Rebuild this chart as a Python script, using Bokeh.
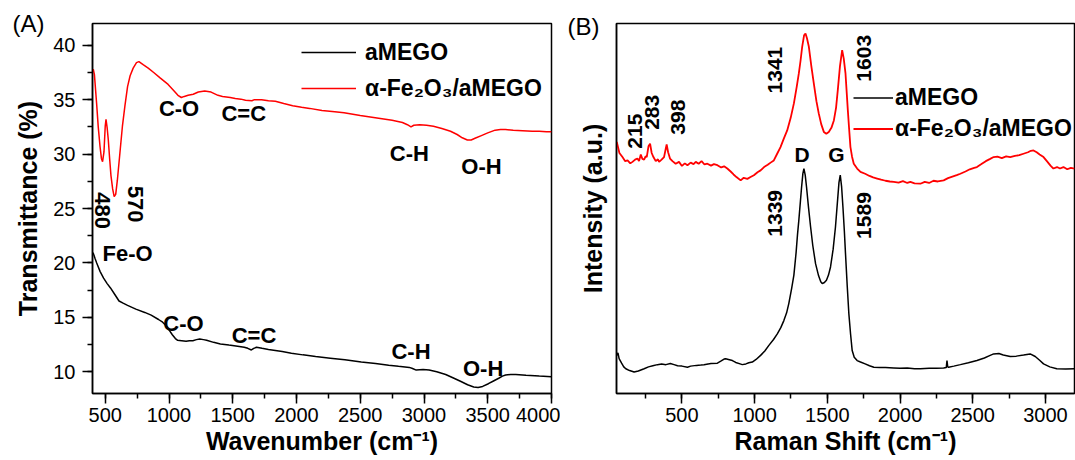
import math
from bokeh.plotting import figure
from bokeh.layouts import row
from bokeh.models import (Legend, LegendItem, SingleIntervalTicker,
                          FixedTicker, Range1d)
from bokeh.embed import file_html
from bokeh.resources import INLINE
from bokeh.core.properties import value

# ---------------- FTIR data (panel A) ----------------
ftir_red_x = [400, 406, 415, 432, 445, 459, 470, 479, 490, 500, 506, 515, 524, 535, 545, 558,
              570, 582, 595, 615, 635, 654, 675, 695, 719, 745, 764, 800, 837, 880, 930, 993,
              1040, 1070, 1097, 1120, 1150, 1190, 1230, 1280, 1330, 1384, 1420, 1480, 1520,
              1564, 1600, 1650, 1670, 1726, 1780, 1834, 1900, 1970, 2040, 2103, 2200, 2300,
              2373, 2500, 2644, 2750, 2831, 2870, 2898, 2920, 2966, 3020, 3074, 3140, 3208,
              3260, 3300, 3340, 3370, 3400, 3450, 3500, 3558, 3600, 3639, 3700, 3773, 3850,
              3904, 3960, 4000]
ftir_red_y = [37.6, 37.8, 37.3, 34.7, 32.5, 30.7, 29.6, 29.3, 30.2, 32.6, 33.2, 32.4, 31.3,
              29.5, 28.0, 26.8, 26.1, 26.3, 27.6, 30.1, 32.6, 34.4, 36.2, 37.2, 37.9, 38.4,
              38.5, 38.2, 37.9, 37.5, 37.0, 36.4, 35.8, 35.4, 35.2, 35.3, 35.4, 35.5, 35.7,
              35.8, 35.7, 35.4, 35.3, 35.2, 35.1, 35.05, 34.95, 34.9, 35.0, 35.0, 34.9, 34.85,
              34.65, 34.45, 34.3, 34.2, 34.0, 33.9, 33.8, 33.55, 33.3, 33.1, 32.9, 32.7, 32.5,
              32.65, 32.7, 32.65, 32.55, 32.35, 32.1, 31.8, 31.5, 31.3, 31.3, 31.45, 31.7,
              31.95, 32.2, 32.25, 32.25, 32.2, 32.15, 32.1, 32.1, 32.05, 32.05]

ftir_black_x = [400, 406, 420, 433, 460, 487, 515, 541, 575, 608, 640, 675, 740, 810, 860, 918,
                950, 972, 1000, 1026, 1050, 1066, 1100, 1134, 1160, 1187, 1215, 1241, 1270,
                1295, 1350, 1403, 1470, 1538, 1590, 1618, 1646, 1665, 1686, 1730, 1780, 1888,
                1960, 2050, 2150, 2265, 2380, 2508, 2620, 2723, 2800, 2885, 2910, 2939, 2993,
                3040, 3100, 3170, 3235, 3290, 3342, 3390, 3424, 3460, 3505, 3545, 3586, 3615,
                3640, 3680, 3720, 3800, 3904, 4000]
ftir_black_y = [20.9, 20.9, 20.4, 20.0, 19.2, 18.6, 18.1, 17.7, 17.1, 16.5, 16.3, 16.1, 15.75,
                15.45, 15.2, 14.8, 14.55, 14.3, 13.85, 13.4, 13.05, 12.9, 12.85, 12.8, 12.85,
                12.85, 12.95, 13.0, 12.95, 12.9, 12.7, 12.55, 12.45, 12.35, 12.25, 12.15, 12.0,
                12.15, 12.25, 12.15, 12.05, 11.85, 11.7, 11.55, 11.4, 11.25, 11.1, 10.9, 10.75,
                10.6, 10.5, 10.4, 10.3, 10.15, 10.2, 10.15, 10.0, 9.75, 9.4, 9.1, 8.8, 8.6,
                8.55, 8.65, 8.9, 9.15, 9.4, 9.6, 9.7, 9.75, 9.75, 9.68, 9.6, 9.55]

ftir_red_labels = ["C-O", "C=C", "C-H", "O-H", "Fe-O"]
ftir_red_lx = [1079, 1586, 2885, 3451, 675]
ftir_red_ly = [34.2, 33.7, 30.1, 28.85, 20.86]
ftir_peak_labels = ["480", "570"]
ftir_peak_lx = [481, 735]
ftir_peak_ly = [24.8, 25.4]
ftir_black_labels = ["C-O", "C=C", "C-H", "O-H"]
ftir_black_lx = [1114, 1667, 2898, 3464]
ftir_black_ly = [14.46, 13.35, 11.87, 10.3]

# ---------------- Raman data (panel B) ----------------
raman_red_x = [52, 70, 91, 110, 126, 145, 160, 178, 194, 205, 217, 228, 240, 250, 258, 270,
               281, 292, 304, 320, 335, 343, 360, 377, 388, 395, 405, 418, 435, 457, 480, 500,
               520, 538, 560, 580, 595, 615, 635, 655, 675, 700, 720, 744, 770, 790, 812, 835,
               855, 875, 904, 925, 950, 972, 995, 1020, 1041, 1065, 1090, 1110, 1132, 1155,
               1178, 1200, 1224, 1248, 1270, 1290, 1304, 1316, 1327, 1340, 1350, 1360, 1373,
               1390, 1407, 1425, 1441, 1458, 1476, 1493, 1510, 1528, 1545, 1560, 1572, 1587,
               1602, 1613, 1625, 1641, 1650, 1659, 1670, 1682, 1705, 1728, 1760, 1790, 1815,
               1843, 1870, 1900, 1930, 1957, 1990, 2020, 2050, 2071, 2100, 2140, 2170, 2200,
               2230, 2260, 2300, 2330, 2360, 2390, 2415, 2450, 2480, 2510, 2529, 2560, 2590,
               2620, 2644, 2670, 2700, 2730, 2758, 2790, 2820, 2849, 2880, 2900, 2918, 2940,
               2960, 2987, 3010, 3035, 3055, 3080, 3100, 3124, 3150, 3175, 3200]
raman_red_y = [680, 650, 639, 628, 630, 622, 626, 632, 635, 628, 646, 634, 632, 641, 639, 668,
               675, 650, 639, 628, 633, 626, 632, 639, 660, 673, 652, 635, 628, 621, 626, 615,
               622, 617, 624, 620, 626, 621, 628, 619, 621, 616, 620, 617, 611, 614, 608, 600,
               592, 585, 576, 583, 580, 585, 590, 598, 603, 612, 618, 624, 630, 648, 666, 688,
               711, 745, 784, 830, 865, 900, 937, 968, 973, 960, 937, 885, 838, 790, 757, 728,
               707, 702, 707, 718, 738, 772, 820, 885, 928, 905, 865, 766, 715, 666, 640, 621,
               608, 599, 594, 588, 584, 581, 578, 575, 573, 572, 570, 574, 569, 572, 568, 567,
               572, 569, 575, 573, 576, 582, 586, 590, 594, 600, 606, 610, 612, 620, 628, 634,
               639, 640, 636, 641, 639, 642, 644, 648, 652, 656, 657, 652, 646, 639, 628, 616,
               608, 612, 608, 612, 606, 610, 608]

raman_black_x = [52, 60, 68, 85, 100, 114, 140, 171, 200, 240, 270, 300, 332, 360, 390, 420,
                 446, 470, 500, 538, 560, 600, 630, 652, 680, 700, 744, 770, 790, 801, 820, 847,
                 870, 900, 915, 940, 960, 984, 1010, 1041, 1070, 1098, 1130, 1156, 1180, 1201,
                 1220, 1235, 1255, 1270, 1285, 1295, 1304, 1315, 1323, 1332, 1339, 1348, 1357,
                 1370, 1385, 1400, 1419, 1440, 1455, 1465, 1480, 1494, 1508, 1522, 1540, 1556,
                 1570, 1580, 1589, 1598, 1608, 1617, 1625, 1637, 1648, 1660, 1671, 1685, 1705,
                 1728, 1760, 1790, 1820, 1860, 1900, 1957, 2000, 2050, 2100, 2140, 2200, 2250,
                 2300, 2318, 2323, 2328, 2334, 2370, 2415, 2470, 2529, 2580, 2620, 2644, 2680,
                 2710, 2758, 2800, 2850, 2895, 2930, 2960, 2987, 3030, 3078, 3140, 3200]
raman_black_y = [103, 110, 94, 82, 72, 67, 62, 58, 61, 67, 72, 75, 78, 80, 78, 81, 78, 75, 74,
                 71, 74, 76, 77, 78, 80, 81, 82, 88, 93, 94, 92, 89, 84, 80, 78, 80, 83, 85, 92,
                 103, 115, 130, 146, 161, 178, 197, 218, 243, 285, 320, 380, 430, 468, 520, 558,
                 595, 608, 590, 558, 505, 450, 400, 351, 318, 302, 297, 300, 306, 320, 342, 390,
                 450, 520, 570, 590, 560, 500, 440, 378, 290, 216, 160, 116, 98, 89, 85, 80, 75,
                 71, 70, 70, 69, 68, 69, 67, 67, 68, 68, 69, 70, 89, 72, 71, 74, 78, 83, 89, 96,
                 103, 107, 108, 104, 100, 101, 104, 107, 100, 90, 80, 72, 67, 66, 67]

raman_vlabels = ["1341", "1603", "215", "283", "398", "1339", "1589"]
raman_vlx = [1137, 1755, 176, 292, 471, 1137, 1755]
raman_vly = [874, 906, 709, 760, 747, 487, 481]
raman_band_labels = ["D", "G"]
raman_band_lx = [1326, 1563]
raman_band_ly = [645, 645]

FONT = "Liberation Sans"


def style(p, panel_tag, tag_offset, tag_standoff):
    p.xgrid.visible = False
    p.ygrid.visible = False
    p.outline_line_color = "black"
    p.outline_line_width = 1.5
    p.outline_line_alpha = 1.0
    p.background_fill_color = "white"
    p.border_fill_color = "white"
    p.title.text = panel_tag
    p.title.align = "left"
    p.title.offset = tag_offset
    p.title.standoff = tag_standoff
    p.title.text_font = FONT
    p.title.text_font_size = "24px"
    p.title.text_font_style = "normal"
    p.title.text_color = "black"
    for ax in p.axis:
        ax.axis_line_width = 1.5
        ax.axis_line_color = "black"
        ax.major_tick_line_width = 1.5
        ax.minor_tick_line_width = 1.5
        ax.major_tick_line_color = "black"
        ax.minor_tick_line_color = "black"
        ax.major_tick_out = 10
        ax.major_tick_in = 0
        ax.minor_tick_out = 5
        ax.minor_tick_in = 0
        ax.major_label_text_font = FONT
        ax.major_label_text_font_size = "20px"
        ax.major_label_text_color = "black"
        ax.axis_label_text_font = FONT
        ax.axis_label_text_font_style = "bold"
        ax.axis_label_text_font_size = "25px"
        ax.axis_label_text_color = "black"


# ---------------- Panel A ----------------
pA = figure(width=560, height=460, x_range=Range1d(400, 4000), y_range=Range1d(8, 42),
            output_backend="svg", toolbar_location=None,
            min_border_left=92, min_border_right=9, min_border_top=23, min_border_bottom=67)
style(pA, "(A)", -80, -26)
pA.xaxis.ticker = SingleIntervalTicker(interval=500, num_minor_ticks=2)
pA.yaxis.ticker = SingleIntervalTicker(interval=5, num_minor_ticks=2)
pA.xaxis.axis_label = "Wavenumber (cm⁻¹)"
pA.yaxis.axis_label = "Transmittance (%)"
pA.xaxis.major_label_standoff = 4
pA.xaxis.axis_label_standoff = 2
pA.yaxis.major_label_standoff = 7
pA.yaxis.axis_label_standoff = 8

rA_black = pA.line(ftir_black_x, ftir_black_y, line_color="black", line_width=1.5)
rA_red = pA.line(ftir_red_x, ftir_red_y, line_color="red", line_width=1.5)

txt_kw = dict(text_font=value(FONT), text_font_style="bold", text_color="black",
              text_align="center", text_baseline="middle")
pA.text(x=ftir_red_lx, y=ftir_red_ly, text=ftir_red_labels, text_font_size="22px", **txt_kw)
pA.text(x=ftir_black_lx, y=ftir_black_ly, text=ftir_black_labels, text_font_size="22px", **txt_kw)
pA.text(x=ftir_peak_lx, y=ftir_peak_ly, text=ftir_peak_labels, angle=-math.pi / 2,
        text_font_size="22px", **txt_kw)

legA = Legend(items=[LegendItem(label="aMEGO", renderers=[rA_black]),
                     LegendItem(label="α-Fe₂O₃/aMEGO", renderers=[rA_red])],
              location=(209, 287), border_line_alpha=0, background_fill_alpha=0,
              padding=0, margin=0, spacing=0, glyph_width=55, glyph_height=36,
              label_height=36, label_standoff=9, label_text_font=FONT,
              label_text_font_style="bold", label_text_font_size="23px",
              label_text_color="black")
pA.add_layout(legA)

# ---------------- Panel B ----------------
pB = figure(width=515, height=460, x_range=Range1d(50, 3200), y_range=Range1d(0, 1000),
            output_backend="svg", toolbar_location=None,
            min_border_left=56, min_border_right=1, min_border_top=23, min_border_bottom=67)
style(pB, "(B)", -49, -32)
pB.xaxis.ticker = SingleIntervalTicker(interval=500, num_minor_ticks=2)
pB.yaxis.ticker = FixedTicker(ticks=[])
pB.yaxis.major_label_text_font_size = "0px"
pB.xaxis.axis_label = "Raman Shift (cm⁻¹)"
pB.yaxis.axis_label = "Intensity (a.u.)"
pB.xaxis.major_label_standoff = 4
pB.xaxis.axis_label_standoff = 2
pB.yaxis.axis_label_standoff = 10

rB_black = pB.line(raman_black_x, raman_black_y, line_color="black", line_width=1.5)
rB_red = pB.line(raman_red_x, raman_red_y, line_color="red", line_width=1.8)

pB.text(x=raman_vlx, y=raman_vly, text=raman_vlabels, angle=math.pi / 2,
        text_font_size="21px", **txt_kw)
pB.text(x=raman_band_lx, y=raman_band_ly, text=raman_band_labels,
        text_font_size="21px", **txt_kw)

legB = Legend(items=[LegendItem(label="aMEGO", renderers=[rB_black]),
                     LegendItem(label="α-Fe₂O₃/aMEGO", renderers=[rB_red])],
              location=(237, 249), border_line_alpha=0, background_fill_alpha=0,
              padding=0, margin=0, spacing=0, glyph_width=40, glyph_height=31,
              label_height=31, label_standoff=2, label_text_font=FONT,
              label_text_font_style="bold", label_text_font_size="23px",
              label_text_color="black")
pB.add_layout(legB)

layout = row(pA, pB)
open("out.html", "w").write(file_html(layout, INLINE))
